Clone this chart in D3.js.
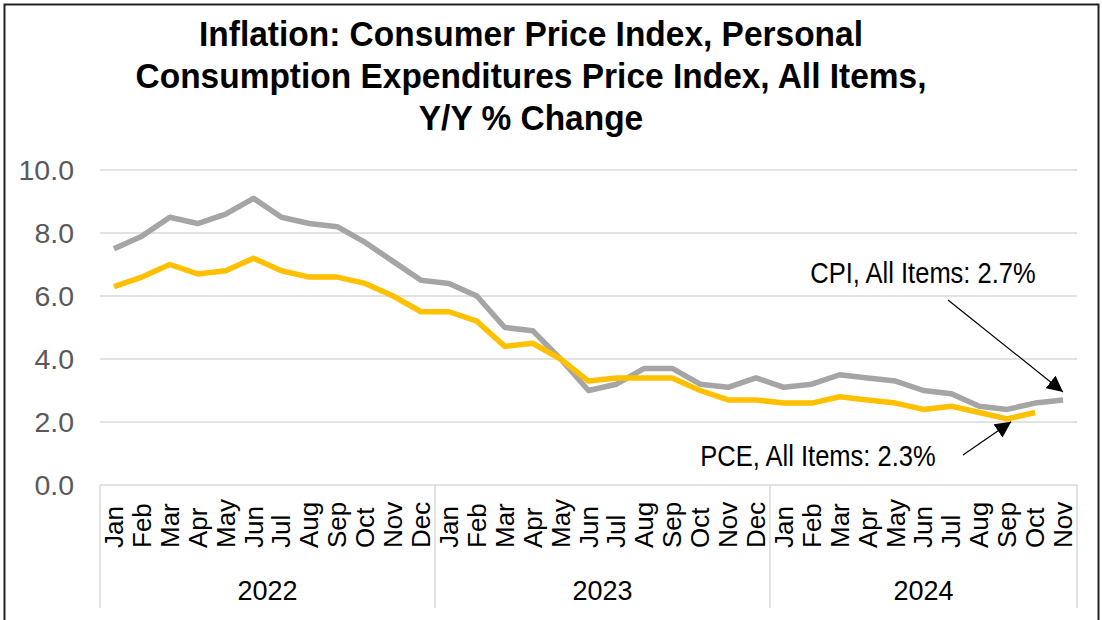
<!DOCTYPE html>
<html>
<head>
<meta charset="utf-8">
<script src="https://cdn.jsdelivr.net/npm/d3@7"></script>
<style>
  html, body { margin: 0; padding: 0; background: #fff; }
  svg { display: block; }
</style>
</head>
<body>
<div id="chart"></div>
<script>
const titleLines = [
  "Inflation: Consumer Price Index, Personal",
  "Consumption Expenditures Price Index, All Items,",
  "Y/Y % Change"
];
const years = ["2022", "2023", "2024"];
const monthNames = ["Jan", "Feb", "Mar", "Apr", "May", "Jun", "Jul", "Aug", "Sep", "Oct", "Nov", "Dec"];
const monthsPerYear = [12, 12, 11];
const cpi = [
  7.5, 7.9, 8.5, 8.3, 8.6, 9.1, 8.5, 8.3, 8.2, 7.7, 7.1, 6.5,
  6.4, 6.0, 5.0, 4.9, 4.0, 3.0, 3.2, 3.7, 3.7, 3.2, 3.1, 3.4,
  3.1, 3.2, 3.5, 3.4, 3.3, 3.0, 2.9, 2.5, 2.4, 2.6, 2.7
];
const pce = [
  6.3, 6.6, 7.0, 6.7, 6.8, 7.2, 6.8, 6.6, 6.6, 6.4, 6.0, 5.5,
  5.5, 5.2, 4.4, 4.5, 4.0, 3.3, 3.4, 3.4, 3.4, 3.0, 2.7, 2.7,
  2.6, 2.6, 2.8, 2.7, 2.6, 2.4, 2.5, 2.3, 2.1, 2.3
];
const yTicks = [0, 2, 4, 6, 8, 10];
const cpiNote = "CPI, All Items: 2.7%";
const pceNote = "PCE, All Items: 2.3%";

const width = 1102, height = 620;
const margin = { top: 170, right: 25, bottom: 135, left: 100 };

// category keys: one per month
const keys = [];
years.forEach((yr, i) => {
  monthNames.slice(0, monthsPerYear[i]).forEach(m => keys.push({ key: yr + "-" + m, year: yr, month: m }));
});

const svg = d3.select("#chart").append("svg")
  .attr("width", width)
  .attr("height", height);

svg.append("rect").attr("width", width).attr("height", height).attr("fill", "#fff");

// outer frame
svg.append("path")
  .attr("d", "M4.5,620V4.5H1098.5V620")
  .attr("fill", "none")
  .attr("stroke", "#222")
  .attr("stroke-width", 2);

const x = d3.scaleBand()
  .domain(keys.map(d => d.key))
  .range([margin.left, width - margin.right]);
const y = d3.scaleLinear()
  .domain([0, 10])
  .range([height - margin.bottom, margin.top]);

const sans = "'Liberation Sans', Arial, sans-serif";

// title (squeezed a bit to mimic the condensed face)
svg.append("g")
  .attr("transform", "translate(531,0) scale(0.93,1)")
  .append("text")
  .attr("text-anchor", "middle")
  .style("font-family", sans)
  .style("font-weight", "bold")
  .style("font-size", "36px")
  .attr("fill", "#000")
  .selectAll("tspan")
  .data(titleLines)
  .join("tspan")
  .attr("x", 0)
  .attr("y", (d, i) => 46 + i * 42)
  .text(d => d);

// gridlines
svg.append("g")
  .selectAll("line")
  .data(yTicks)
  .join("line")
  .attr("x1", margin.left)
  .attr("x2", width - margin.right)
  .attr("y1", d => y(d))
  .attr("y2", d => y(d))
  .attr("stroke", "#d9d9d9")
  .attr("stroke-width", 1.5);

// y labels
svg.append("g")
  .selectAll("text")
  .data(yTicks)
  .join("text")
  .attr("x", 74)
  .attr("y", d => y(d))
  .attr("dy", "0.36em")
  .attr("text-anchor", "end")
  .style("font-family", sans)
  .style("font-size", "28.5px")
  .attr("fill", "#595959")
  .text(d => d.toFixed(1));

// year separators
const yearStarts = years.map(yr => x(yr + "-Jan"));
const sepX = yearStarts.concat([width - margin.right]);
svg.append("g")
  .selectAll("line")
  .data(sepX)
  .join("line")
  .attr("x1", d => d)
  .attr("x2", d => d)
  .attr("y1", y(0))
  .attr("y2", 608)
  .attr("stroke", "#d9d9d9")
  .attr("stroke-width", 1.5);

// month labels
svg.append("g")
  .selectAll("text")
  .data(keys)
  .join("text")
  .attr("transform", d => `translate(${x(d.key) + x.bandwidth() / 2 + 9},548) rotate(-90)`)
  .attr("text-anchor", "start")
  .style("font-family", sans)
  .style("font-size", "26px")
  .attr("fill", "#000")
  .text(d => d.month);

// year labels
svg.append("g")
  .selectAll("text")
  .data(years)
  .join("text")
  .attr("x", (d, i) => (sepX[i] + sepX[i + 1]) / 2)
  .attr("y", 600)
  .attr("text-anchor", "middle")
  .style("font-family", sans)
  .style("font-size", "27px")
  .attr("fill", "#000")
  .text(d => d);

// lines
const line = d3.line()
  .x((d, i) => x(keys[i].key) + x.bandwidth() / 2)
  .y(d => y(d));

svg.append("path")
  .datum(cpi)
  .attr("d", line)
  .attr("fill", "none")
  .attr("stroke", "#a5a5a5")
  .attr("stroke-width", 5.5)
  .attr("stroke-linejoin", "round");

svg.append("path")
  .datum(pce)
  .attr("d", line)
  .attr("fill", "none")
  .attr("stroke", "#ffc000")
  .attr("stroke-width", 5.5)
  .attr("stroke-linejoin", "round");

// annotations
svg.append("defs").append("marker")
  .attr("id", "arrow")
  .attr("viewBox", "0 0 10 10")
  .attr("refX", 10)
  .attr("refY", 5)
  .attr("markerWidth", 16)
  .attr("markerHeight", 16)
  .attr("markerUnits", "userSpaceOnUse")
  .attr("orient", "auto")
  .append("path")
  .attr("d", "M0,0L10,5L0,10Z")
  .attr("fill", "#000");

const cpiLast = keys[cpi.length - 1].key;
const pceLast = keys[pce.length - 1].key;
const cpiTip = [x(cpiLast) + x.bandwidth() / 2, y(cpi[cpi.length - 1]) - 8];
const pceTip = [x(pceLast) - 10, y(pce[pce.length - 2]) + 3];

svg.append("line")
  .attr("x1", 948).attr("y1", 300)
  .attr("x2", cpiTip[0]).attr("y2", cpiTip[1])
  .attr("stroke", "#000").attr("stroke-width", 1.2)
  .attr("marker-end", "url(#arrow)");

svg.append("line")
  .attr("x1", 963).attr("y1", 455)
  .attr("x2", pceTip[0]).attr("y2", pceTip[1])
  .attr("stroke", "#000").attr("stroke-width", 1.2)
  .attr("marker-end", "url(#arrow)");

svg.append("text")
  .attr("transform", "translate(923,283) scale(0.88,1)")
  .attr("text-anchor", "middle")
  .style("font-family", sans)
  .style("font-size", "29px")
  .attr("fill", "#000")
  .text(cpiNote);

svg.append("text")
  .attr("transform", "translate(818,466) scale(0.88,1)")
  .attr("text-anchor", "middle")
  .style("font-family", sans)
  .style("font-size", "29px")
  .attr("fill", "#000")
  .text(pceNote);
</script>
</body>
</html>
